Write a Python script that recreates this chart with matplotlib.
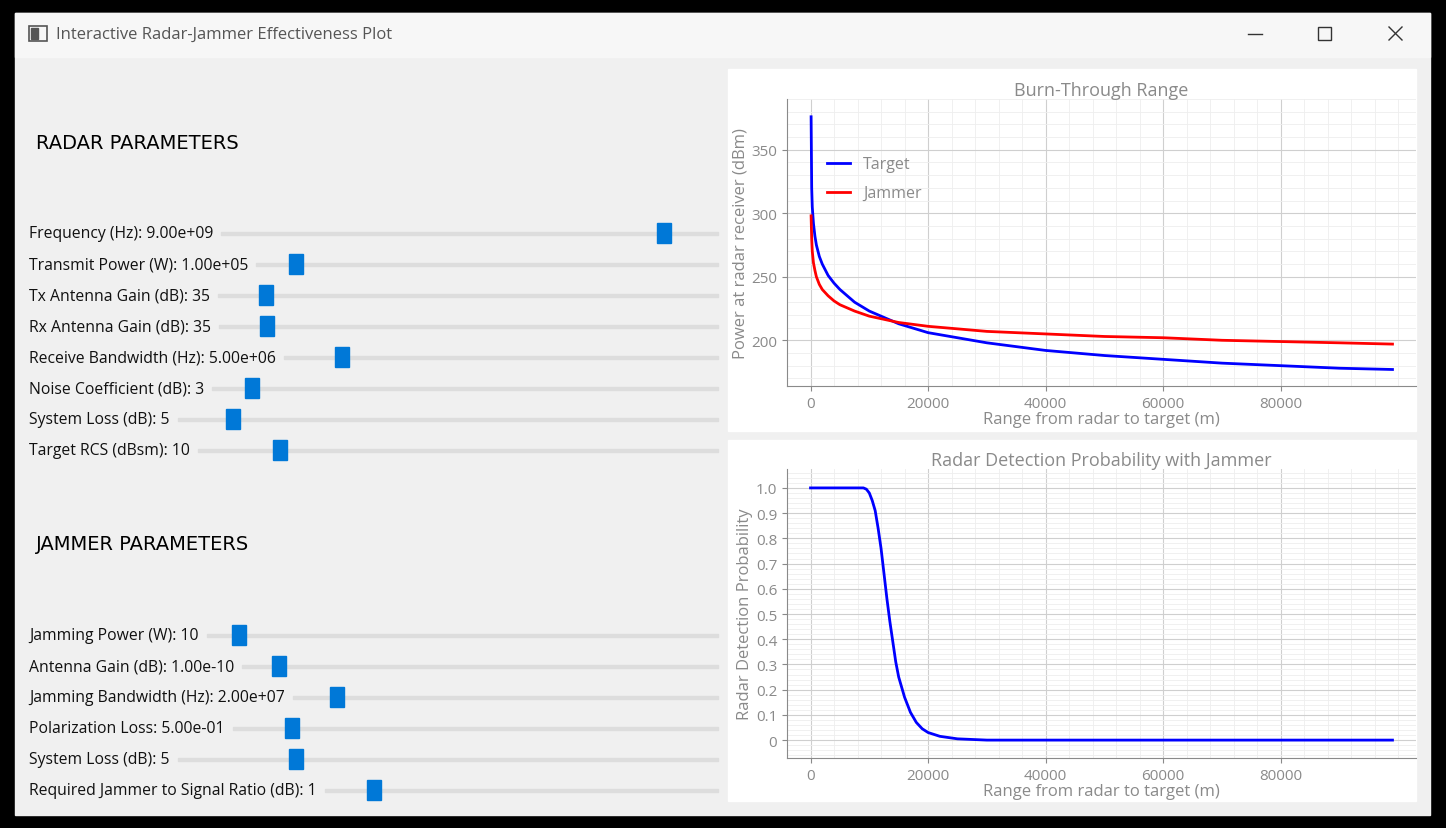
import matplotlib.pyplot as plt
from matplotlib.patches import Rectangle
from matplotlib.ticker import MultipleLocator

W, H = 1446, 829

# power vs range values
rng_pw = [100, 200, 300, 500, 750, 1000, 1500, 2000, 3000, 4000, 5000, 7500, 10000,
          15000, 20000, 30000, 40000, 50000, 60000, 70000, 80000, 90000, 99000]
target_pw = [376, 320, 305, 292, 282, 275, 266, 260, 251, 245, 240, 230, 223,
             213, 206, 198, 192, 188, 185, 182, 180, 178, 177]
jammer_pw = [298, 280, 270, 261, 255, 250, 244, 240, 235, 231, 228, 223, 219,
             214, 211, 207, 205, 203, 202, 200, 199, 198, 197]

rng_pd = [0, 5000, 9000, 9500, 10000, 10500, 11000, 11500, 12000, 12500, 13000, 13500,
          14000, 14500, 15000, 16000, 17000, 18000, 19000, 20000, 22000, 25000,
          30000, 50000, 99000]
prob_d = [1, 1, 1, 0.995, 0.98, 0.95, 0.91, 0.84, 0.76, 0.66, 0.56, 0.47, 0.39,
          0.31, 0.25, 0.17, 0.11, 0.07, 0.045, 0.03, 0.015, 0.005, 0, 0, 0]

radar_params = ["Frequency (Hz): 9.00e+09", "Transmit Power (W): 1.00e+05",
                "Tx Antenna Gain (dB): 35", "Rx Antenna Gain (dB): 35",
                "Receive Bandwidth (Hz): 5.00e+06", "Noise Coefficient (dB): 3",
                "System Loss (dB): 5", "Target RCS (dBsm): 10"]
radar_handles = [664, 296, 266, 267, 342, 252, 233, 280]
jammer_params = ["Jamming Power (W): 10", "Antenna Gain (dB): 1.00e-10",
                 "Jamming Bandwidth (Hz): 2.00e+07", "Polarization Loss: 5.00e-01",
                 "System Loss (dB): 5", "Required Jammer to Signal Ratio (dB): 1"]
jammer_handles = [239, 279, 337, 292, 296, 374]

plt.rcParams['font.family'] = 'Open Sans'
fig = plt.figure(figsize=(W / 100, H / 100), dpi=100, facecolor='black')

bg = fig.add_axes([0, 0, 1, 1])
bg.set_xlim(0, W)
bg.set_ylim(H, 0)
bg.axis('off')
bg.add_patch(Rectangle((15, 14), 1415, 802, color='#f0f0f0'))
bg.add_patch(Rectangle((15, 14), 1415, 44, color='#f7f7f7'))
bg.add_patch(Rectangle((29, 27), 18, 15, fill=False, ec='#555', lw=1.2))
bg.add_patch(Rectangle((31, 29), 7, 11, color='#555'))
bg.text(56, 35, "Interactive Radar-Jammer Effectiveness Plot", fontsize=12,
        color='#555', va='center')
bg.plot([1248, 1262], [35, 35], color='#333', lw=1)
bg.add_patch(Rectangle((1318, 28), 13, 13, fill=False, ec='#333', lw=1))
bg.plot([1389, 1402], [28, 41], color='#333', lw=1)
bg.plot([1389, 1402], [41, 28], color='#333', lw=1)
bg.add_patch(Rectangle((728, 70), 688, 362, color='white'))
bg.add_patch(Rectangle((728, 441), 688, 361, color='white'))

bg.text(36, 143, "RADAR PARAMETERS", fontsize=14, va='center', family='DejaVu Sans',
        fontweight='medium')
bg.text(36, 545, "JAMMER PARAMETERS", fontsize=14, va='center', family='DejaVu Sans',
        fontweight='medium')

fig.canvas.draw()
rend = fig.canvas.get_renderer()


def slider_rows(labels, handles, y0):
    for i, (lab, hx) in enumerate(zip(labels, handles)):
        y = y0 + i * 31
        t = bg.text(29, y, lab, fontsize=11.3, va='center', color='#111')
        ext = t.get_window_extent(rend)
        x0 = ext.x1 + 8
        bg.add_patch(Rectangle((x0, y - 1.5), 718 - x0, 3, color='#dddddd'))
        bg.add_patch(Rectangle((hx - 7, y - 10), 14, 20, color='#0078d7'))


slider_rows(radar_params, radar_handles, 234)
slider_rows(jammer_params, jammer_handles, 636)

gray = '#8a8a8a'


def style(ax, xlabel, ylabel):
    ax.set_facecolor('white')
    for s in ['top', 'right']:
        ax.spines[s].set_visible(False)
    for s in ['left', 'bottom']:
        ax.spines[s].set_color(gray)
    ax.tick_params(colors=gray, labelsize=11, which='both', labelcolor=gray)
    ax.tick_params(which='minor', length=0)
    ax.set_xticks([0, 20000, 40000, 60000, 80000])
    ax.xaxis.set_minor_locator(MultipleLocator(4000))
    ax.grid(True, which='major', color='#cfcfcf', lw=0.8)
    ax.grid(True, which='minor', color='#eeeeee', lw=0.6)
    ax.set_axisbelow(True)
    ax.set_xlim(-4000, 103000)
    ax.set_xlabel(xlabel, color=gray, fontsize=12, labelpad=0)
    ax.set_ylabel(ylabel, color=gray, fontsize=12, labelpad=2)


ax1 = fig.add_axes([787 / W, 1 - 387 / H, 629 / W, 287 / H])
ax1.plot(rng_pw, target_pw, color='blue', lw=2, label='Target')
ax1.plot(rng_pw, jammer_pw, color='red', lw=2, label='Jammer')
style(ax1, "Range from radar to target (m)", "Power at radar receiver (dBm)")
ax1.set_ylim(164, 390)
ax1.yaxis.set_major_locator(MultipleLocator(50))
ax1.yaxis.set_minor_locator(MultipleLocator(10))
ax1.set_title("Burn-Through Range", color=gray, fontsize=13, pad=3)
leg = ax1.legend(loc='upper left', bbox_to_anchor=(0.04, 0.85), frameon=False,
                 fontsize=11.5, handlelength=1.5, labelspacing=0.8)
for t in leg.get_texts():
    t.set_color(gray)

ax2 = fig.add_axes([787 / W, 1 - 759 / H, 629 / W, 289 / H])
ax2.plot(rng_pd, prob_d, color='blue', lw=2)
style(ax2, "Range from radar to target (m)", "Radar Detection Probability")
ax2.set_ylim(-0.071, 1.075)
ax2.yaxis.set_minor_locator(MultipleLocator(0.02))
ax2.set_yticks([i / 10 for i in range(11)])
ax2.set_yticklabels(['0'] + [f'{i / 10:.1f}' for i in range(1, 11)])
ax2.set_title("Radar Detection Probability with Jammer", color=gray, fontsize=13, pad=3)

fig.savefig('out.png', dpi=100, facecolor='black')
